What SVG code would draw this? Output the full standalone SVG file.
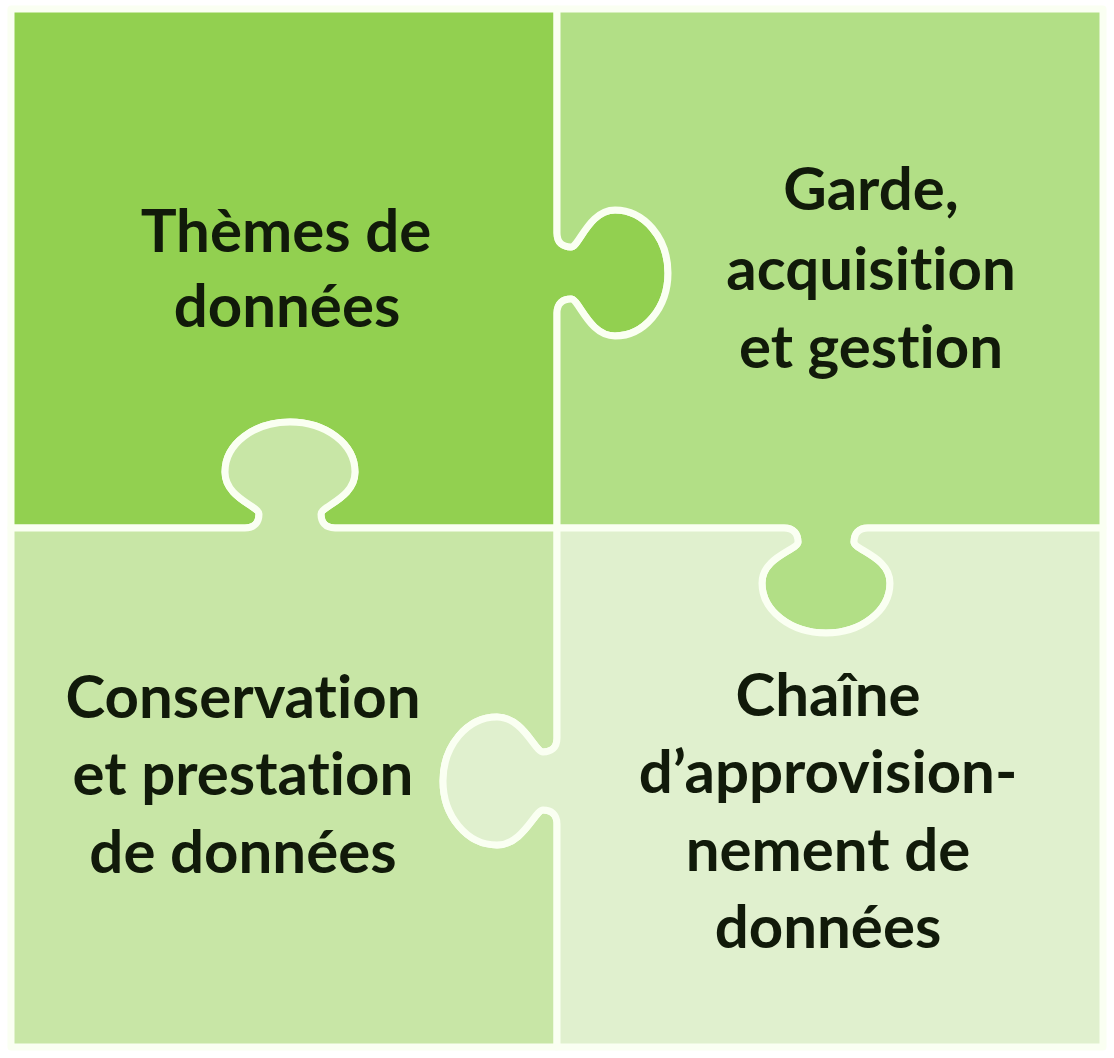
<svg xmlns="http://www.w3.org/2000/svg" width="1114" height="1058" viewBox="0 0 1114 1058">
<style>
.piece{stroke:#FAFFF2;stroke-width:7;stroke-linejoin:round}
.lbl{font-family:Lato,"Open Sans","Liberation Sans",sans-serif;font-weight:700;font-size:60px;fill:#111a0a;text-anchor:middle;font-variant-ligatures:none;font-feature-settings:"liga" 0,"clig" 0}
</style>
<rect width="1114" height="1058" fill="#ffffff"/>
<g id="piece-themes">
<path class="piece" fill="#92D050" d="M11,9 L557,9 L557,233 C557,243 563,247 571,247 C579,247 589,210 615,210 C644,210 668,238 668,273 C668,308 644,336 615,336 C589,336 579,299 571,299 C563,299 557,303 557,313 L557,528 L335,528 C325,528 321,522 321,514 C321,506 355,498 355,472 C355,444 326,422 290,422 C254,422 225,444 225,472 C225,498 259,506 259,514 C259,522 255,528 245,528 L11,528 Z"/>
<text class="lbl" x="286" y="252">Thèmes de</text>
<text class="lbl" x="287" y="327">données</text>
</g>
<g id="piece-garde">
<path class="piece" fill="#B2DF86" d="M557,9 L1103,9 L1103,528 L868,528 C858,528 854,534 854,542 C854,550 890,557 890,583 C890,611 861,633 826,633 C791,633 762,611 762,583 C762,557 798,550 798,542 C798,534 794,528 784,528 L557,528 L557,313 C557,303 563,299 571,299 C579,299 589,336 615,336 C644,336 668,308 668,273 C668,238 644,210 615,210 C589,210 579,247 571,247 C563,247 557,243 557,233 Z"/>
<text class="lbl" x="871" y="210">Garde,</text>
<text class="lbl" x="871" y="290">acquisition</text>
<text class="lbl" x="871" y="368">et gestion</text>
</g>
<g id="piece-conservation">
<path class="piece" fill="#C8E6A6" d="M11,528 L245,528 C255,528 259,522 259,514 C259,506 225,498 225,472 C225,444 254,422 290,422 C326,422 355,444 355,472 C355,498 321,506 321,514 C321,522 325,528 335,528 L557,528 L557,738 C557,748 551,752 543,752 C535,752 523,717 497,717 C467,717 443,746 443,781 C443,816 467,845 497,845 C523,845 535,810 543,810 C551,810 557,814 557,824 L557,1047 L11,1047 Z"/>
<text class="lbl" x="243" y="718">Conservation</text>
<text class="lbl" x="243" y="795">et prestation</text>
<text class="lbl" x="243" y="873">de données</text>
</g>
<g id="piece-chaine">
<path class="piece" fill="#E0F0CE" d="M557,528 L784,528 C794,528 798,534 798,542 C798,550 762,557 762,583 C762,611 791,633 826,633 C861,633 890,611 890,583 C890,557 854,550 854,542 C854,534 858,528 868,528 L1103,528 L1103,1047 L557,1047 L557,824 C557,814 551,810 543,810 C535,810 523,845 497,845 C467,845 443,816 443,781 C443,746 467,717 497,717 C523,717 535,752 543,752 C551,752 557,748 557,738 Z"/>
<text class="lbl" x="828" y="716">Chaîne</text>
<text class="lbl" x="828" y="793">d’approvision-</text>
<text class="lbl" x="828" y="871">nement de</text>
<text class="lbl" x="828" y="948">données</text>
</g>
<g id="connectors"></g>
</svg>
